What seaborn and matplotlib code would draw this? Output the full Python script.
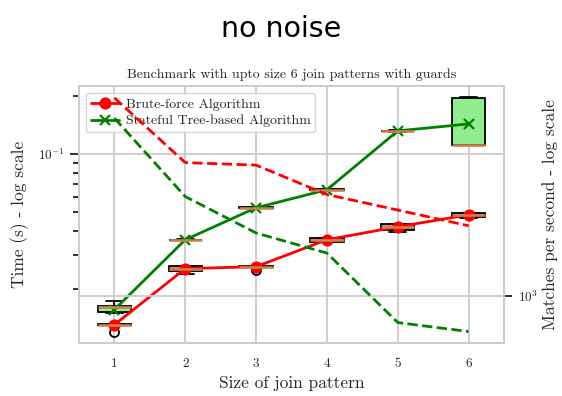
import numpy as np
import pandas as pd
import matplotlib
matplotlib.use("Agg")
import matplotlib.pyplot as plt
from matplotlib.ticker import NullFormatter, NullLocator
import seaborn as sns

# Pattern sizes on the x axis
sizes = [1, 2, 3, 4, 5, 6]

# Repeated timing runs (seconds) per pattern size
brute_runs = {
    1: [0.01193, 0.01298, 0.01305, 0.01312, 0.01314],
    2: [0.02389, 0.02464, 0.02535, 0.02616, 0.02630],
    3: [0.02514, 0.02598, 0.02607, 0.02615, 0.02620],
    4: [0.03480, 0.03510, 0.03590, 0.03670, 0.03690],
    5: [0.03950, 0.04050, 0.04180, 0.04350, 0.04360],
    6: [0.04680, 0.04700, 0.04840, 0.04950, 0.04970],
}
stateful_runs = {
    1: [0.01510, 0.01514, 0.01615, 0.01626, 0.01733],
    2: [0.03570, 0.03580, 0.03590, 0.03600, 0.03610],
    3: [0.05220, 0.05240, 0.05260, 0.05300, 0.05320],
    4: [0.06480, 0.06500, 0.06520, 0.06550, 0.06570],
    5: [0.13050, 0.13100, 0.13150, 0.13200, 0.13250],
    6: [0.11100, 0.11130, 0.11140, 0.19550, 0.19600],
}

# Mean time per size (seconds)
brute_mean = [0.01305, 0.02547, 0.02607, 0.03594, 0.04195, 0.04839]
stateful_mean = [0.01563, 0.03594, 0.05260, 0.06520, 0.13150, 0.14290]

# Throughput (matches per second)
brute_tput = [7604, 3919, 3819, 2826, 2411, 2052]
stateful_tput = [6180, 2768, 1906, 1552, 762, 695]

labels = ["Brute-force Algorithm", "Stateful Tree-based Algorithm"]


def runs_frame(runs):
    rows = [(k, v) for k, vals in runs.items() for v in vals]
    return pd.DataFrame(rows, columns=["size", "time"])


sns.set_theme(style="whitegrid")
plt.rcParams["font.family"] = "serif"
plt.rcParams["font.serif"] = ["cmr10", "DejaVu Serif"]
plt.rcParams["mathtext.fontset"] = "cm"
plt.rcParams["axes.formatter.use_mathtext"] = True
plt.rcParams["axes.unicode_minus"] = True

fig = plt.figure(figsize=(5.62, 3.96), dpi=100)
ax = fig.add_axes([79 / 562, 1 - 343 / 396, (504 - 79) / 562, (343 - 86) / 396])
ax.set_yscale("log")

median_col = "#c98150"
box_common = dict(
    native_scale=True, width=0.47, saturation=1, linecolor="black",
    linewidth=1.3,
    medianprops={"color": median_col, "linewidth": 1.9},
    flierprops={"marker": "o", "markerfacecolor": "none",
                "markeredgecolor": "black", "markersize": 6.5,
                "markeredgewidth": 1.3},
    ax=ax,
)
sns.boxplot(data=runs_frame(brute_runs), x="size", y="time",
            color="#f08080", **box_common)
sns.boxplot(data=runs_frame(stateful_runs), x="size", y="time",
            color="#90ee90", **box_common)

sns.lineplot(x=sizes, y=brute_mean, color="red", marker="o", markersize=8,
             markeredgecolor="red", linewidth=2, label=labels[0], ax=ax)
sns.lineplot(x=sizes, y=stateful_mean, color="green", marker="x", markersize=7.5,
             markeredgecolor="green", markeredgewidth=1.6, linewidth=2,
             label=labels[1], ax=ax)

ax.set_xlim(0.5, 6.5)
ax.set_ylim(0.0105, 0.2245)
ax.set_xticks(sizes)
ax.set_xticklabels([str(s) for s in sizes])
ax.set_xlabel("Size of join pattern", fontsize=12.5, color="#262626")
ax.set_ylabel("Time (s) - log scale", fontsize=12.5, color="#262626",
              labelpad=6)
ax.set_title("Benchmark with upto size 6 join patterns with guards",
             fontsize=10, color="#262626", pad=6)
ax.tick_params(axis="x", length=0, pad=11, labelsize=9.5, labelcolor="#262626")
ax.tick_params(axis="y", which="major", left=True, length=6.5, width=1.4,
               color="#333333", pad=4, labelsize=9.5, labelcolor="#262626")
ax.tick_params(axis="y", which="minor", left=True, length=4.5, width=1.4,
               color="#333333")
ax.yaxis.set_minor_formatter(NullFormatter())
ax.grid(True, which="major", color="#cccccc", linewidth=1.3)
for s in ax.spines.values():
    s.set_color("#cccccc")
    s.set_linewidth(1.4)

leg = ax.legend(loc="upper left", fontsize=10, frameon=True,
                edgecolor="#cccccc", framealpha=0.8, borderpad=0.35,
                labelspacing=0.3, handletextpad=0.5)

ax2 = ax.twinx()
ax2.set_yscale("log")
sns.lineplot(x=sizes, y=brute_tput, color="red", linestyle="--",
             linewidth=2, legend=False, ax=ax2)
sns.lineplot(x=sizes, y=stateful_tput, color="green", linestyle="--",
             linewidth=2, legend=False, ax=ax2)
ax2.set_ylim(618, 8585)
ax2.yaxis.set_minor_locator(NullLocator())
ax2.yaxis.set_minor_formatter(NullFormatter())
ax2.tick_params(axis="y", which="major", right=True, length=6, width=1.4,
                color="#333333", pad=4, labelsize=9.5, labelcolor="#262626")
ax2.set_ylabel("Matches per second - log scale", fontsize=12.5,
               color="#262626", labelpad=3)
ax2.grid(True, which="major", axis="y", color="#cccccc", linewidth=1.3)
ax2.grid(False, axis="x")
for s in ax2.spines.values():
    s.set_color("#cccccc")
    s.set_linewidth(1.4)

fig.text(0.5, 1 - 29 / 396, "no noise", ha="center", va="center",
         fontsize=20.5, family="DejaVu Sans", color="black")

fig.savefig("out.png", dpi=100)
